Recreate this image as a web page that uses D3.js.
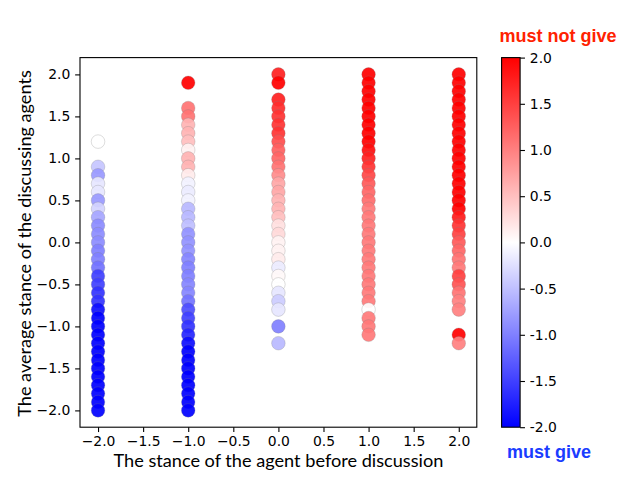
<!DOCTYPE html>
<html>
<head>
<meta charset="utf-8">
<script src="https://cdn.jsdelivr.net/npm/d3@7"></script>
<style>
  html, body { margin: 0; padding: 0; background: #fff; }
  svg { display: block; }
</style>
</head>
<body>
<svg id="chart" width="640" height="480"></svg>
<script>
// ---------------- data ----------------
const xCategories = [-2, -1, 0, 1, 2];
const xTickValues = [-2, -1.5, -1, -0.5, 0, 0.5, 1, 1.5, 2];
const yTickValues = [-2, -1.5, -1, -0.5, 0, 0.5, 1, 1.5, 2];
const colorbarTicks = [-2, -1.5, -1, -0.5, 0, 0.5, 1, 1.5, 2];

// average stance of discussing agents (y) and colour value (c) for each x column
const yAtMinus2 = [1.2,0.9,0.8,0.7,0.6,0.5,0.4,0.3,0.2,0.1,0.0,-0.1,-0.2,-0.3,-0.4,-0.5,-0.6,-0.7,-0.8,-0.9,-1.0,-1.1,-1.2,-1.3,-1.4,-1.5,-1.6,-1.7,-1.8,-1.9,-2.0];
const cAtMinus2 = [0.0,-0.45,-0.8,-0.2,-0.2,-0.8,-0.35,-0.7,-0.9,-0.9,-0.9,-1.0,-1.0,-1.1,-1.5,-1.5,-1.6,-1.6,-1.9,-2,-2,-2,-2,-2,-2,-2,-2,-2,-2,-2,-2];

const yAtMinus1 = [1.9,1.6,1.5,1.4,1.3,1.2,1.1,1.0,0.9,0.8,0.7,0.6,0.5,0.4,0.3,0.2,0.1,0.0,-0.1,-0.2,-0.3,-0.4,-0.5,-0.6,-0.7,-0.8,-0.9,-1.0,-1.1,-1.2,-1.3,-1.4,-1.5,-1.6,-1.7,-1.8,-1.9,-2.0];
const cAtMinus1 = [2,1.1,1.1,0.6,0.6,0.5,0.1,0.6,0.6,0.15,-0.1,-0.15,-0.1,-0.55,-0.55,-0.5,-0.85,-0.85,-0.85,-0.95,-1.0,-1.0,-0.95,-0.95,-1.1,-1.4,-1.5,-1.6,-1.7,-1.9,-2,-2,-2,-2,-2,-2,-2,-2];

const yAt0 = [2.0,1.9,1.7,1.6,1.5,1.4,1.3,1.2,1.1,1.0,0.9,0.8,0.7,0.6,0.5,0.4,0.3,0.2,0.1,0.0,-0.1,-0.2,-0.3,-0.4,-0.5,-0.6,-0.7,-0.8,-1.0,-1.2];
const cAt0 = [1.75,2,1.75,1.65,1.6,1.6,1.6,1.4,1.25,1.2,1.1,0.9,0.7,0.7,0.6,0.6,0.5,0.25,0.3,0.1,0.1,0.15,-0.15,0.05,0.0,-0.2,-0.4,-0.2,-1.0,-0.55];

const yAt1 = [2.0,1.9,1.8,1.7,1.6,1.5,1.4,1.3,1.2,1.1,1.0,0.9,0.8,0.7,0.6,0.5,0.4,0.3,0.2,0.1,0.0,-0.1,-0.2,-0.3,-0.4,-0.5,-0.6,-0.7,-0.8,-0.9,-1.0,-1.1];
const cAt1 = [2,2,2,2,2,2,2,2,2,1.9,1.75,1.6,1.45,1.3,1.2,1.15,1.05,1.05,1.05,1.05,1.05,1.05,1.05,1.05,1.05,1.05,1.05,1.05,0.0,1.05,1.05,1.05];

const yAt2 = [2.0,1.9,1.8,1.7,1.6,1.5,1.4,1.3,1.2,1.1,1.0,0.9,0.8,0.7,0.6,0.5,0.4,0.3,0.2,0.1,0.0,-0.1,-0.2,-0.3,-0.4,-0.5,-0.6,-0.7,-0.8,-1.1,-1.2];
const cAt2 = [2,2,2,2,2,2,2,2,2,2,2,2,2,2,2,2,2,1.8,1.6,1.5,1.3,1.2,1.1,1.05,1.5,1.35,1.1,1.0,1.0,2,1.0];

const yColumns = [yAtMinus2, yAtMinus1, yAt0, yAt1, yAt2];
const cColumns = [cAtMinus2, cAtMinus1, cAt0, cAt1, cAt2];

const xLabel = "The stance of the agent before discussion";
const yLabel = "The average stance of the discussing agents";
const topLabel = "must not give";
const bottomLabel = "must give";

// ---------------- build points ----------------
const points = [];
xCategories.forEach((x, i) => {
  yColumns[i].forEach((y, j) => points.push({ x: x, y: y, c: cColumns[i][j] }));
});

// ---------------- layout ----------------
const svg = d3.select("#chart");
const axL = 80, axR = 476.8, axT = 57.6, axB = 427.2;
const cbL = 501.6, cbR = 520.1;
const tickLen = 4.86, tickPad = 4.86;
const tickFont = "DejaVu Sans, sans-serif";
const tickSize = 13.9;

const x = d3.scaleLinear().domain([-2.2, 2.2]).range([axL, axR]);
const y = d3.scaleLinear().domain([-2.2, 2.2]).range([axB, axT]);
const color = d3.scaleLinear().domain([-2, 0, 2]).range(["#0000ff", "#ffffff", "#ff0000"]).clamp(true);
const cbY = d3.scaleLinear().domain([-2, 2]).range([axB, axT]);

// clip
svg.append("defs").append("clipPath").attr("id", "axclip")
  .append("rect").attr("x", axL).attr("y", axT).attr("width", axR - axL).attr("height", axB - axT);

// points
svg.append("g").attr("clip-path", "url(#axclip)")
  .selectAll("circle").data(points).join("circle")
  .attr("cx", d => x(d.x))
  .attr("cy", d => y(d.y))
  .attr("r", 6.8)
  .attr("fill", d => color(d.c))
  .attr("fill-opacity", 0.92)
  .attr("stroke", "#808080")
  .attr("stroke-opacity", 0.45)
  .attr("stroke-width", 0.6);

// axes
const fmt = d3.format(".1f"); // uses unicode minus
const xAxis = svg.append("g").attr("transform", `translate(0,${axB})`)
  .call(d3.axisBottom(x).tickValues(xTickValues).tickFormat(fmt).tickSize(tickLen).tickPadding(tickPad - 0.5));
const yAxis = svg.append("g").attr("transform", `translate(${axL},0)`)
  .call(d3.axisLeft(y).tickValues(yTickValues).tickFormat(fmt).tickSize(tickLen).tickPadding(tickPad));
[xAxis, yAxis].forEach(g => {
  g.select(".domain").remove();
  g.selectAll(".tick line").attr("stroke", "#000").attr("stroke-width", 1.1);
  g.selectAll(".tick text").attr("fill", "#000").style("font-family", tickFont).style("font-size", tickSize + "px");
});

// spines
svg.append("rect").attr("x", axL).attr("y", axT).attr("width", axR - axL).attr("height", axB - axT)
  .attr("fill", "none").attr("stroke", "#000").attr("stroke-width", 1.1);

// axis labels
const labelFont = "Lato, 'Noto Sans', sans-serif";
function fitText(sel, target) {
  const w = sel.node().getComputedTextLength();
  const fs = parseFloat(sel.style("font-size"));
  sel.style("font-size", (fs * target / w) + "px");
}
const xl = svg.append("text").attr("x", (axL + axR) / 2).attr("y", 467)
  .attr("text-anchor", "middle").style("font-family", labelFont).style("font-size", "16px")
  .attr("fill", "#000").text(xLabel);
fitText(xl, 330);
const yl = svg.append("text").attr("transform", `translate(31,243.5) rotate(-90)`)
  .attr("text-anchor", "middle").style("font-family", labelFont).style("font-size", "16px")
  .attr("fill", "#000").text(yLabel);
fitText(yl, 347);

// colorbar
const grad = svg.select("defs").append("linearGradient").attr("id", "cbgrad")
  .attr("x1", 0).attr("y1", 1).attr("x2", 0).attr("y2", 0);
d3.range(0, 1.0001, 0.05).forEach(t => {
  grad.append("stop").attr("offset", t).attr("stop-color", color(-2 + 4 * t));
});
svg.append("rect").attr("x", cbL).attr("y", axT).attr("width", cbR - cbL).attr("height", axB - axT)
  .attr("fill", "url(#cbgrad)").attr("stroke", "#000").attr("stroke-width", 1.1);
const cbAxis = svg.append("g").attr("transform", `translate(${cbR},0)`)
  .call(d3.axisRight(cbY).tickValues(colorbarTicks).tickFormat(d => d3.format(".1f")(d).replace("−", "-")).tickSize(tickLen).tickPadding(tickPad));
cbAxis.select(".domain").remove();
cbAxis.selectAll(".tick line").attr("stroke", "#000").attr("stroke-width", 1.1);
cbAxis.selectAll(".tick text").attr("fill", "#000").style("font-family", tickFont).style("font-size", tickSize + "px");

// colorbar titles
svg.append("text").attr("x", 558).attr("y", 41.7).attr("text-anchor", "middle")
  .style("font-family", "'Liberation Sans', Arial, sans-serif").style("font-weight", "bold").style("font-size", "18px")
  .attr("fill", "#ff2200").text(topLabel);
svg.append("text").attr("x", 549).attr("y", 458.3).attr("text-anchor", "middle")
  .style("font-family", "'Liberation Sans', Arial, sans-serif").style("font-weight", "bold").style("font-size", "18px")
  .attr("fill", "#1a3cff").text(bottomLabel);
</script>
</body>
</html>
